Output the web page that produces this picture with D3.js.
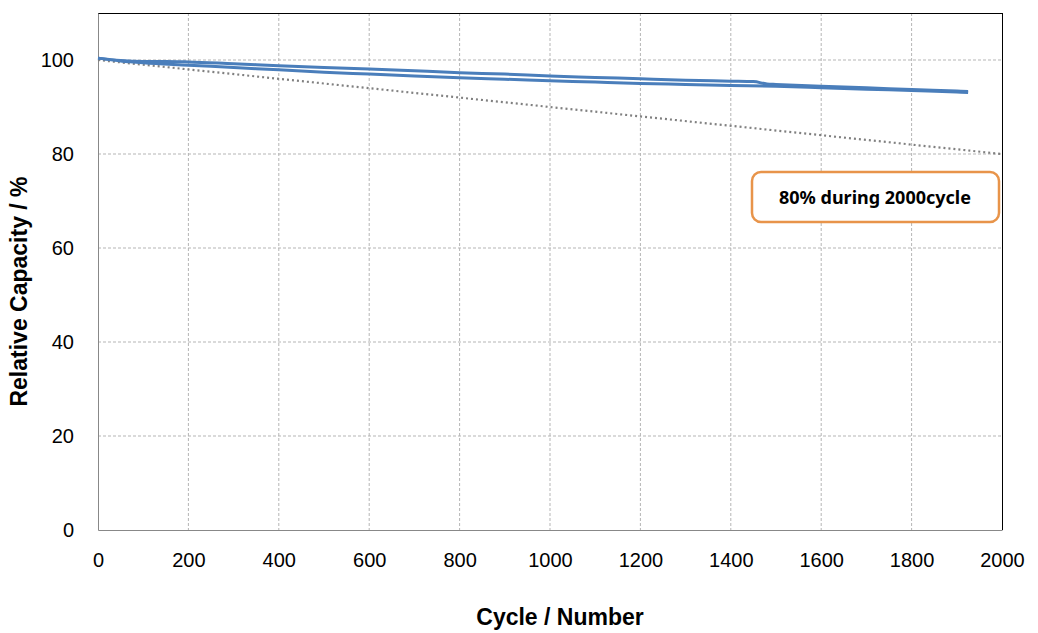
<!DOCTYPE html>
<html><head><meta charset="utf-8">
<script src="https://cdn.jsdelivr.net/npm/d3@7"></script>
<style>body{margin:0;background:#fff}svg{display:block}</style>
</head><body>
<svg id="c" width="1038" height="633"></svg>
<script>
const xTicks = [0,200,400,600,800,1000,1200,1400,1600,1800,2000];
const yTicks = [0,20,40,60,80,100];
const cyclesA = [0,50,100,150,200,300,400,500,600,700,800,900,1000,1100,1200,1300,1400,1450,1480,1500,1600,1700,1800,1900,1925];
const capacityA = [100.4,99.9,99.7,99.7,99.6,99.2,98.8,98.4,98.1,97.7,97.3,97.0,96.6,96.3,96.0,95.7,95.5,95.4,94.9,94.8,94.4,94.1,93.7,93.4,93.3];
const cyclesB = [0,50,100,200,300,400,500,600,700,800,900,1000,1100,1200,1300,1400,1500,1600,1700,1800,1900,1925];
const capacityB = [100.4,99.8,99.4,98.9,98.4,97.9,97.4,97.0,96.6,96.2,95.9,95.6,95.3,95.0,94.8,94.6,94.4,94.1,93.8,93.5,93.2,93.1];
const guideCycles = [0,2000];
const guideCapacity = [100,80];
const annotation = "80% during 2000cycle";

const svg = d3.select("#c");
const L=98, R=1002, T=13, B=530;
const x = d3.scaleLinear().domain([0,2000]).range([L,R]);
const y = d3.scaleLinear().domain([0,110]).range([B,T]);

// grid
svg.append("g").selectAll("line").data(xTicks.filter(d=>d>0&&d<2000)).join("line")
  .attr("x1",d=>x(d)).attr("x2",d=>x(d)).attr("y1",T).attr("y2",B)
  .attr("stroke","#b5b5b5").attr("stroke-dasharray","3,2").attr("stroke-width",1);
svg.append("g").selectAll("line").data(yTicks.filter(d=>d>0)).join("line")
  .attr("x1",L).attr("x2",R).attr("y1",d=>y(d)).attr("y2",d=>y(d))
  .attr("stroke","#b5b5b5").attr("stroke-dasharray","3,2").attr("stroke-width",1);

// borders
svg.append("line").attr("x1",L).attr("x2",R).attr("y1",T+0.5).attr("y2",T+0.5).attr("stroke","#000");
svg.append("line").attr("x1",R+0.5).attr("x2",R+0.5).attr("y1",T).attr("y2",B).attr("stroke","#000");

// axes
const xAxis = svg.append("g").attr("transform",`translate(0,${B})`)
  .call(d3.axisBottom(x).tickValues(xTicks).tickSize(0).tickPadding(23).tickFormat(d3.format("d")));
const yAxis = svg.append("g").attr("transform",`translate(${L},0)`)
  .call(d3.axisLeft(y).tickValues(yTicks).tickSize(0).tickPadding(24).tickFormat(d3.format("d")));
[xAxis,yAxis].forEach(a=>{
  a.select(".domain").attr("stroke","#888");
  a.selectAll("text").attr("font-family","Liberation Sans, Arial, sans-serif").attr("font-size",20).attr("fill","#000");
});
xAxis.selectAll("text").attr("dy","0.71em");

// guide dotted line
const gdata = guideCycles.map((c,i)=>[c,guideCapacity[i]]);
svg.append("path").datum(gdata)
  .attr("d",d3.line().x(d=>x(d[0])).y(d=>y(d[1])))
  .attr("stroke","#808080").attr("stroke-width",2.2).attr("stroke-dasharray","2,3").attr("fill","none");

// series
const line = d3.line().x(d=>x(d[0])).y(d=>y(d[1])).curve(d3.curveMonotoneX);
[[cyclesB,capacityB],[cyclesA,capacityA]].forEach(([cs,vs])=>{
  svg.append("path").datum(cs.map((c,i)=>[c,vs[i]]))
    .attr("d",line).attr("fill","none").attr("stroke","#4a7ebb").attr("stroke-width",3);
});

// axis titles
svg.append("text").attr("x",(L+R)/2+10).attr("y",625).attr("text-anchor","middle")
  .attr("font-family","Liberation Sans, Arial, sans-serif").attr("font-weight","bold").attr("font-size",23)
  .text("Cycle / Number");
svg.append("text").attr("transform",`translate(27,${(T+B)/2+20}) rotate(-90)`).attr("text-anchor","middle")
  .attr("font-family","Liberation Sans, Arial, sans-serif").attr("font-weight","bold").attr("font-size",23)
  .text("Relative Capacity / %");

// annotation
svg.append("rect").attr("x",752).attr("y",172).attr("width",247).attr("height",50).attr("rx",9)
  .attr("fill","#fff").attr("stroke","#e8944a").attr("stroke-width",2.5);
svg.append("text").attr("x",875).attr("y",204).attr("text-anchor","middle")
  .attr("font-family","Noto Sans, sans-serif").attr("font-weight","bold").attr("font-size",18)
  .text(annotation);
</script>
</body></html>
